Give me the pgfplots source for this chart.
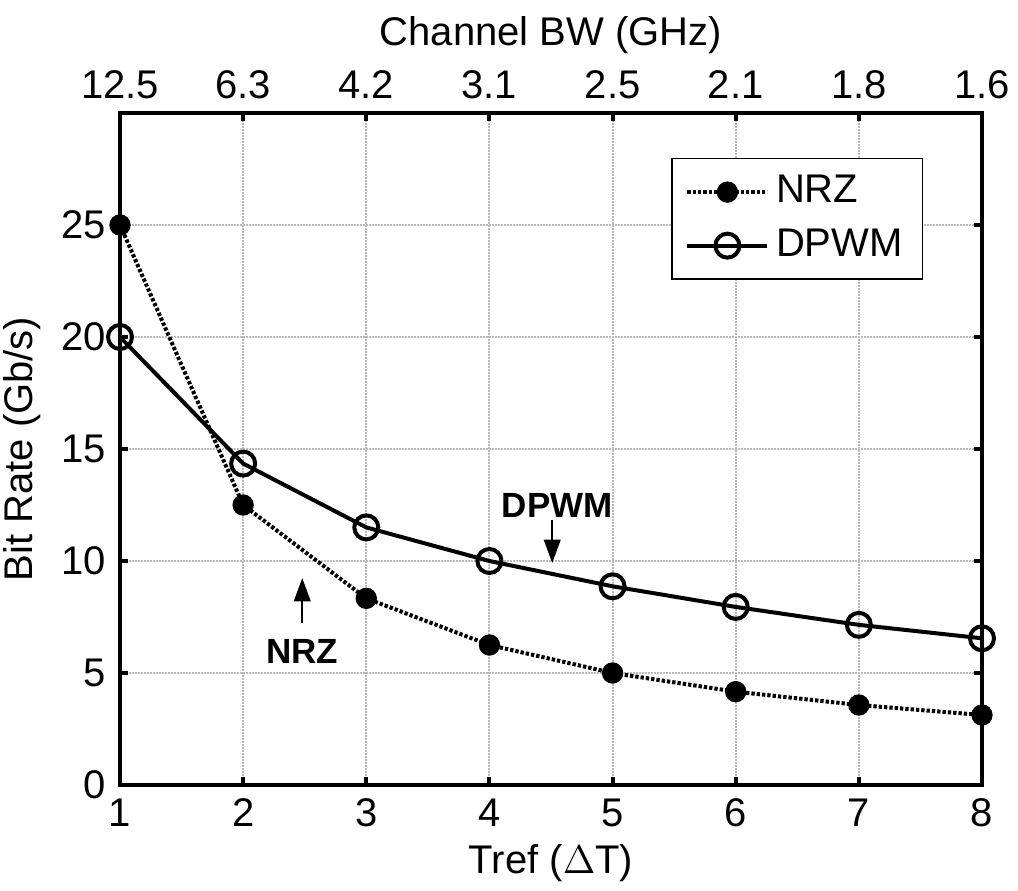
\documentclass[border=0pt]{standalone}
\usepackage{fontspec}
\setmainfont{Liberation Sans}
\usepackage{pgfplots}
\pgfplotsset{compat=1.18}
\usetikzlibrary{arrows.meta,calc}
\begin{document}
\fontsize{12}{14}\selectfont
\begin{tikzpicture}
\pgfplotsset{
  base/.style={
    width=258.6pt, height=201.6pt, scale only axis,
    xmin=1, xmax=8, ymin=0, ymax=30,
    tick align=inside,
    major tick length=2.4pt,
    tick style={line width=1.2pt, black},
    axis line style={line width=1.2pt},
    /pgf/number format/assume math mode=true,
    tick label style={font=\fontsize{12}{14}\selectfont},
    label style={font=\fontsize{12}{14}\selectfont},
  }
}
\begin{axis}[base, name=main,
  xtick={1,...,8}, ytick={0,5,...,25},
  grid=major,
  major grid style={gray!55, line width=0.6pt, dash pattern=on 0.6pt off 0.3pt},
  xlabel={Tref ($\Delta$T)},
  ylabel={Bit Rate (Gb/s)},
  xlabel style={yshift=3pt},
  ylabel style={yshift=-2pt},
  legend style={at={(0.932,0.933)}, anchor=north east, draw=black, line width=0.4pt,
    font=\fontsize{12}{14}\selectfont, row sep=2pt, inner xsep=4pt, inner ysep=3pt,
    cells={anchor=west}},
  legend image code/.code={
    \draw[mark repeat=2, mark phase=2] plot coordinates {(0pt,0pt) (12pt,0pt) (24pt,0pt)};},
]
\addplot[black, line width=1.2pt, dash pattern=on 1pt off 0.6pt,
  mark=*, mark size=3pt, mark options={solid, fill=black, line width=0.4pt}]
  coordinates {(1,25) (2,12.5) (3,8.333) (4,6.25) (5,5) (6,4.167) (7,3.571) (8,3.125)};
\addlegendentry{NRZ}
\addplot[black, line width=1.2pt, mark=o, mark size=3.6pt, mark options={solid, line width=1.2pt}]
  coordinates {(1,20) (2,14.35) (3,11.5) (4,10) (5,8.87) (6,7.95) (7,7.15) (8,6.55)};
\addlegendentry{DPWM}
\node[font=\fontsize{10.5}{12}\selectfont\bfseries] at (axis cs:4.55,12.5) {DPWM};
\draw[-{Triangle[length=7pt,width=5pt]}, line width=0.5pt] (axis cs:4.51,11.83) -- (axis cs:4.51,9.91);
\node[font=\fontsize{10.5}{12}\selectfont\bfseries] at (axis cs:2.48,5.98) {NRZ};
\draw[-{Triangle[length=7pt,width=5pt]}, line width=0.5pt] (axis cs:2.48,7.23) -- (axis cs:2.48,9.24);
\end{axis}
\begin{axis}[base,
  axis x line*=top, axis y line=none,
  xtick={1,...,8},
  xticklabels={12.5,6.3,4.2,3.1,2.5,2.1,1.8,1.6},
  xlabel={Channel BW (GHz)},
  xlabel style={yshift=-3pt},
  major tick length=0pt,
]
\addplot[draw=none] coordinates {(1,0) (8,0)};
\end{axis}
\pgfresetboundingbox
\path ($(main.south west)+(-36pt,-31.5pt)$) rectangle ($(main.north east)+(10.8pt,33.9pt)$);
\end{tikzpicture}
\end{document}
